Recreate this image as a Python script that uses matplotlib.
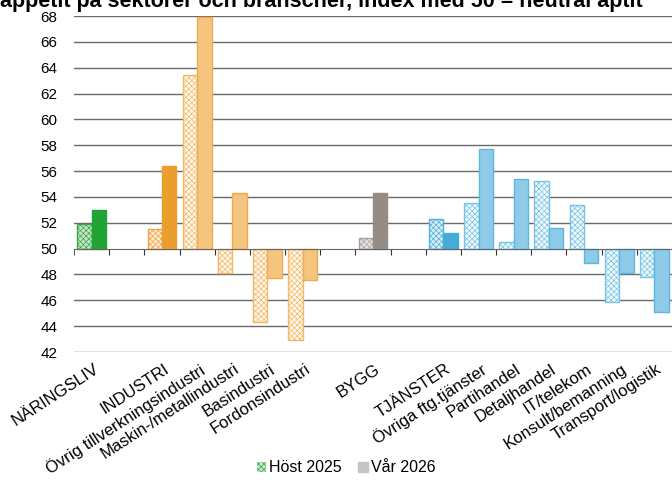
import numpy as np
import matplotlib
matplotlib.use("Agg")
import matplotlib.pyplot as plt
from matplotlib.patches import Patch
import matplotlib.transforms as mtransforms

plt.rcParams['font.family'] = ['Liberation Sans', 'DejaVu Sans']
plt.rcParams['hatch.linewidth'] = 0.5

categories = ["NÄRINGSLIV", "", "INDUSTRI", "Övrig tillverkningsindustri",
              "Maskin-/metallindustri", "Basindustri", "Fordonsindustri", "",
              "BYGG", "", "TJÄNSTER", "Övriga ftg.tjänster", "Partihandel",
              "Detaljhandel", "IT/telekom", "Konsult/bemanning", "Transport/logistik"]
nan = np.nan
host_2025 = [51.9, nan, 51.5, 63.4, 48.1, 44.3, 42.9, nan, 50.85, nan,
             52.3, 53.5, 50.5, 55.2, 53.4, 45.9, 47.8]
var_2026 = [53.0, nan, 56.4, 67.9, 54.3, 47.7, 47.6, nan, 54.3, nan,
            51.2, 57.7, 55.4, 51.6, 48.9, 48.1, 45.1]
groups = ["nar", None, "ind", "ind_sub", "ind_sub", "ind_sub", "ind_sub", None,
          "bygg", None, "tj", "tj_sub", "tj_sub", "tj_sub", "tj_sub", "tj_sub", "tj_sub"]
yticks = list(range(42, 69, 2))
neutral = 50

# styles: (var face, var edge, host face, host hatch/edge)
styles = {
    "nar": ("#21a336", "#21a336", "#c4e5c6", "#3aa84a"),
    "ind": ("#eb9e2d", "#eb9e2d", "#fcebd3", "#eea440"),
    "ind_sub": ("#f5c57f", "#eeab52", "#fff7ec", "#f3b865"),
    "bygg": ("#968c86", "#968c86", "#e6e2df", "#a8a09b"),
    "tj": ("#45acd8", "#45acd8", "#d8eff8", "#4fb0da"),
    "tj_sub": ("#8dcbe8", "#5cb6e0", "#f0f9fd", "#78c3e6"),
}

fig = plt.figure(figsize=(6.72, 4.8), dpi=100)
ax = fig.add_axes([74/672, 1-352/480, 1-74/672, (352-16)/480])

x = np.arange(len(categories))
w = 0.41
for i, g in enumerate(groups):
    if g is None:
        continue
    vf, ve, hf, he = styles[g]
    h = host_2025[i]
    v = var_2026[i]
    ax.bar(x[i] - w/2, h - neutral, bottom=neutral, width=w, facecolor=hf,
           edgecolor=he, hatch='xxxxxx', linewidth=1.0, zorder=3)
    ax.bar(x[i] + w/2, v - neutral, bottom=neutral, width=w, facecolor=vf,
           edgecolor=ve, linewidth=1.0, zorder=3)

ax.set_xlim(-0.5, len(categories) - 0.5)
ax.set_ylim(min(yticks), max(yticks))
ax.set_yticks(yticks)
ax.tick_params(axis='y', length=0, pad=12, labelsize=11)
for yv in yticks:
    if yv != neutral:
        ax.axhline(yv, color='#6a6a6a', linewidth=1.0, zorder=1)
for s in ['left', 'right', 'top']:
    ax.spines[s].set_visible(False)
ax.spines['bottom'].set_position(('data', neutral))
ax.spines['bottom'].set_color('#666666')
ax.spines['bottom'].set_zorder(4)
ax.set_xticks(x[:-1] + 0.5, minor=False)
ax.set_xticks([-0.5], minor=True)
ax.tick_params(axis='x', which='both', direction='out', length=4, color='#333333',
               labelbottom=False)

trans = mtransforms.blended_transform_factory(ax.transData, ax.transAxes)
for i, c in enumerate(categories):
    if c:
        ax.text(x[i] + 0.05, -0.028, c, rotation=33, ha='right', va='top',
                rotation_mode='anchor', transform=trans, fontsize=12)

fig.text(0.0, 1 - 7/480, "appetit på sektorer och branscher, index med 50 = neutral aptit",
         fontsize=15.5, fontweight='bold', ha='left', va='baseline')

handles = [Patch(facecolor='#c4e5c6', edgecolor='#3aa84a', hatch='xxxxxx', linewidth=0),
           Patch(facecolor='#c8c4c2', edgecolor='#c8c4c2')]
fig.legend(handles, ["Höst 2025", "Vår 2026"], loc='center',
           bbox_to_anchor=(0.515, 1 - 468/480), ncol=2, frameon=False,
           fontsize=11.5, handlelength=0.6, handleheight=0.6, handletextpad=0.2,
           columnspacing=1.0)

fig.savefig("out.png", dpi=100)
